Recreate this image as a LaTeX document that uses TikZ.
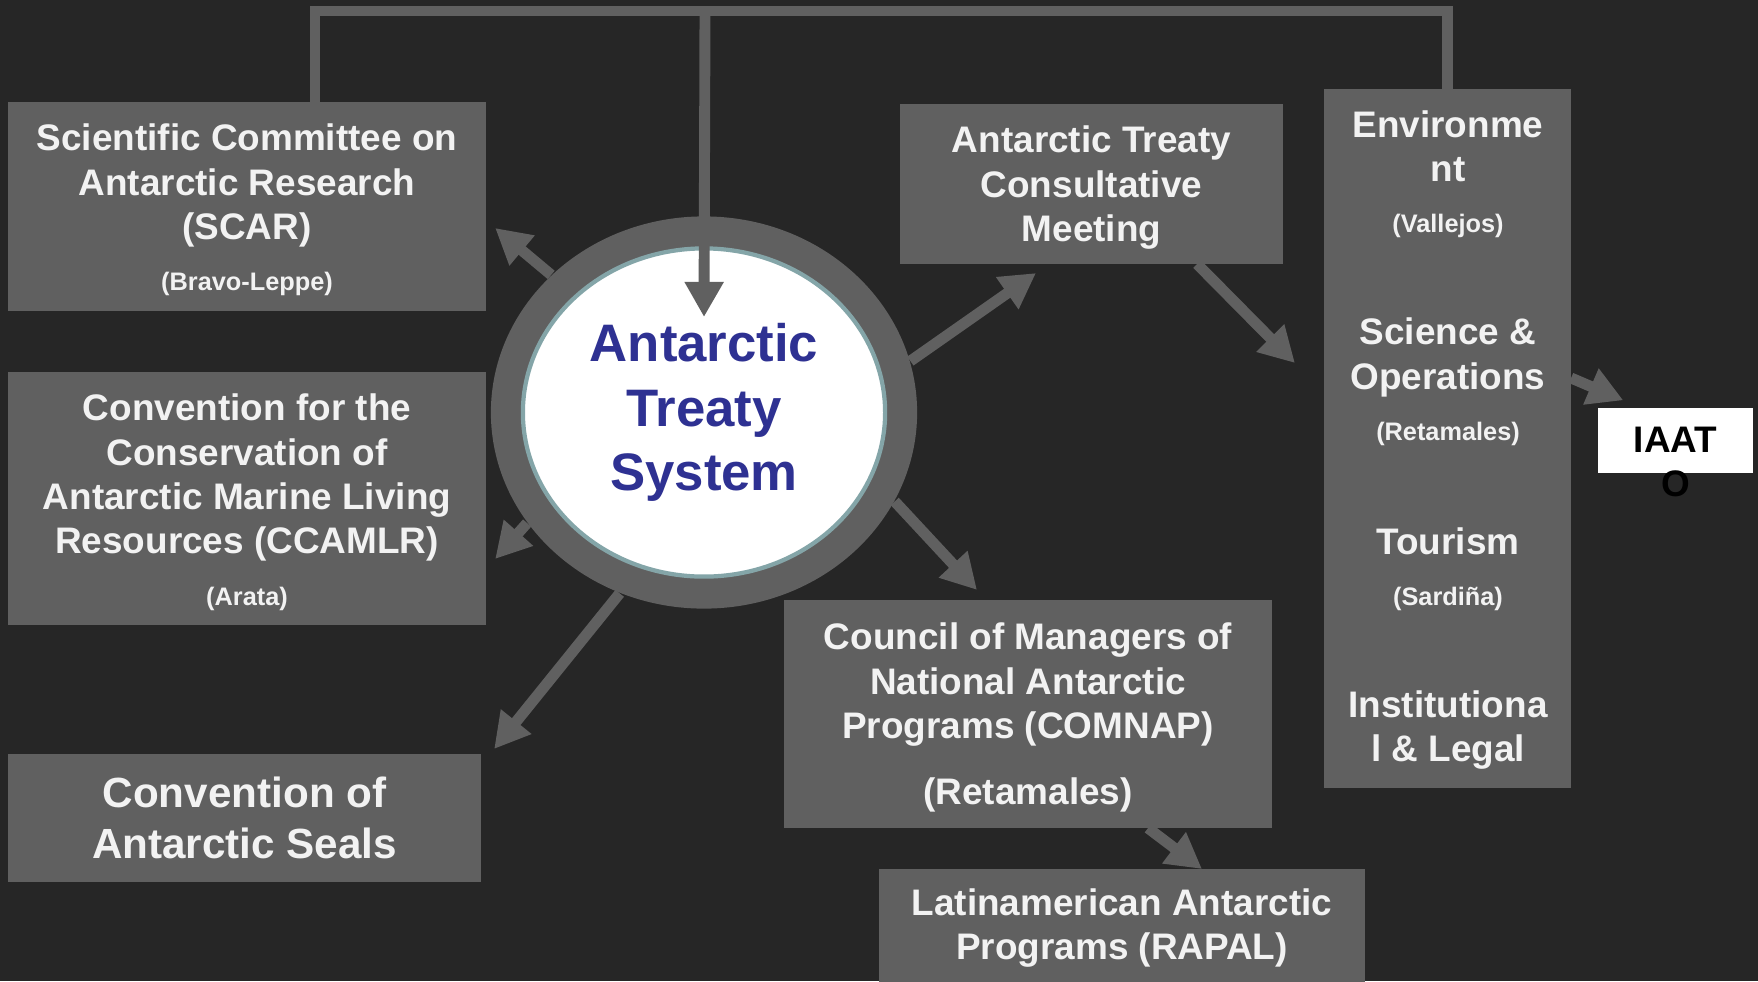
\documentclass[tikz,border=0pt]{standalone}
\usepackage{fontspec}
\setmainfont{Liberation Sans}
\usetikzlibrary{arrows.meta,shapes.geometric,calc}
\definecolor{bgdark}{HTML}{262626}
\definecolor{boxgray}{HTML}{606060}
\definecolor{ringedge}{HTML}{84A5A8}
\definecolor{atsblue}{HTML}{2E3192}
\definecolor{paper}{HTML}{F2F2F2}
\newcommand{\convener}[1]{{\fontsize{7.2}{8.6}\selectfont #1}}
\newcommand{\topstrut}{\rule{0pt}{9.7pt}}

\begin{document}
\begin{tikzpicture}[x=0.01cm,y=-0.01cm,
  box/.style={fill=boxgray,inner sep=0pt,outer sep=0pt,align=center,text=paper,
    font=\bfseries\fontsize{10.5}{12.6}\selectfont},
  wgtext/.style={inner sep=0pt,align=center,text=paper,font=\bfseries\fontsize{10.5}{12.6}\selectfont},
  bar/.style={draw=boxgray,line width=3.1pt},
  arr/.style={draw=boxgray,line width=3.1pt,-{Triangle[length=10pt,width=10.5pt]}}]
\clip (0,0) rectangle (1758,981);
\fill[bgdark] (0,0) rectangle (1758,981);

\node[box,minimum width=4.78cm,minimum height=2.09cm] (scar) at (247,206.5)
  {\topstrut Scientific Committee on\\Antarctic Research\\(SCAR)\\[2pt]\convener{(Bravo-Leppe)}};
\node[box,minimum width=4.78cm,minimum height=2.53cm] (ccamlr) at (247,498.5)
  {\topstrut Convention for the\\Conservation of\\Antarctic Marine Living\\Resources (CCAMLR)\\[2pt]\convener{(Arata)}};
\node[box,minimum width=4.73cm,minimum height=1.28cm,font=\bfseries\fontsize{12}{14.5}\selectfont] (seals) at (244.5,818)
  {Convention of\\Antarctic Seals};
\node[box,minimum width=3.83cm,minimum height=1.60cm] (atcm) at (1091.5,184)
  {\topstrut Antarctic Treaty\\Consultative\\Meeting};
\node[box,minimum width=4.88cm,minimum height=2.28cm] (comnap) at (1028,714)
  {\topstrut Council of Managers of\\National Antarctic\\Programs (COMNAP)\\[6.2pt](Retamales)};
\node[box,minimum width=4.86cm,minimum height=1.174cm] (rapal) at (1122,927.7)
  {Latinamerican Antarctic\\Programs (RAPAL)};

\node[box,minimum width=2.47cm,minimum height=6.99cm] (wg) at (1447.5,438.5) {};
\node[wgtext] (env) at (1448,174.2) {Environme\\nt\\[2pt]\convener{(Vallejos)}};
\node[wgtext] (sciops) at (1448,382) {Science \&\\Operations\\[2pt]\convener{(Retamales)}};
\node[wgtext] (tourism) at (1448,569) {Tourism\\[2pt]\convener{(Sardiña)}};
\node[wgtext] (legal) at (1448,729.7) {Institutiona\\l \& Legal};

\node[fill=white,inner sep=0pt,minimum width=1.55cm,minimum height=0.65cm] (iaato) at (1675.5,440.5) {};
\node[wgtext,text=black] (iaatotext) at ($(iaato)+(0,21.5)$) {IAAT\\O};

\node[ellipse,fill=boxgray,inner sep=0pt,minimum width=4.26cm,minimum height=3.92cm] (ats) at (704,412.5) {};
\node[ellipse,fill=white,draw=ringedge,line width=1.2pt,inner sep=0pt,minimum width=3.62cm,minimum height=3.28cm] (atsin) at (ats) {};
\node[inner sep=0pt,align=center,text=atsblue,font=\bfseries\fontsize{15}{18.4}\selectfont] (atstext) at (ats) {Antarctic\\Treaty\\System};

\coordinate (top) at (705,11);
\draw[bar] ($(scar.north)+(68,0)$) |- (top) -| (wg.north);
\draw[arr] (top) -- ($(ats.center)+(0,-95.5)$);

\draw[arr] (ats.138) -- ($(scar.east)+(9,21.5)$);
\draw[arr] (ats.212) -- ($(ccamlr.east)+(9,60.5)$);
\draw[arr] (ats.245) -- ($(seals.north east)+(13,-5)$);
\draw[arr] (ats.14) -- ($(atcm.south)+(-55.5,9)$);
\draw[arr] (ats.335) -- ($(comnap.north)+(-51,-10)$);
\draw[arr] ($(atcm.south east)+(-86,0)$) -- ($(wg.west)+(-29,-75.5)$);
\draw[arr] ($(wg.east)+(0,-60.5)$) -- ($(iaato.north west)+(26,-7)$);
\draw[arr] ($(comnap.south)+(120,0)$) -- ($(rapal.north)+(80,0)$);
\end{tikzpicture}
\end{document}
